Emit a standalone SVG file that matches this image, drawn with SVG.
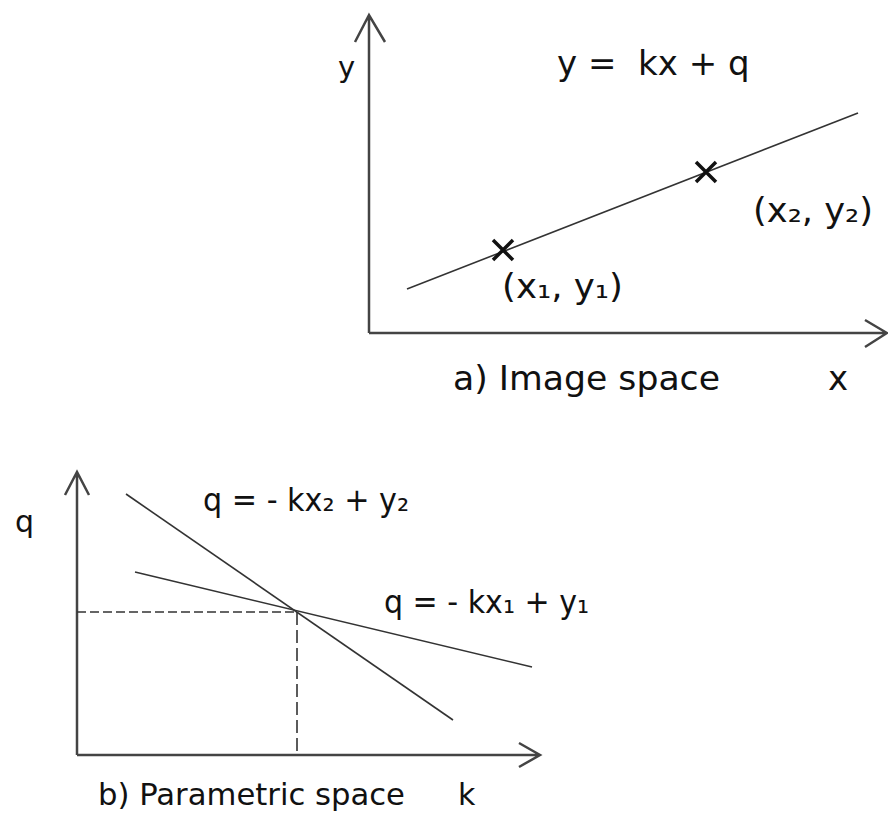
<svg xmlns="http://www.w3.org/2000/svg" width="888" height="814" viewBox="0 0 888 814">
<style>
.ax{stroke:#444;stroke-width:2.5;fill:none}
.ln{stroke:#333;stroke-width:1.6;fill:none}
.dash{stroke:#333;stroke-width:1.6;fill:none;stroke-dasharray:9 4}
.mk{stroke:#111;stroke-width:3.5;fill:none}
text{font-family:"DejaVu Sans","Liberation Sans",sans-serif;fill:#111}
</style>
<rect width="888" height="814" fill="#fff"/>
<g id="image-space">
  <g id="connectors-a">
    <path class="ax" d="M369,333 V15 M355,42 L369,15 L385,42"/>
    <path class="ax" d="M369,333 H887 M865,320 L887,333 L865,347"/>
    <path class="ln" d="M407,289 L858,113"/>
  </g>
  <g id="point1"><path class="mk" d="M493,240 L513,260 M513,240 L493,260"/></g>
  <g id="point2"><path class="mk" d="M696,162 L716,182 M716,162 L696,182"/></g>
  <text x="338" y="77" font-size="29">y</text>
  <text x="557" y="75" font-size="34" xml:space="preserve">y =  kx + q</text>
  <text x="753" y="222" font-size="33" textLength="120" lengthAdjust="spacingAndGlyphs">(x₂, y₂)</text>
  <text x="502" y="298" font-size="33" textLength="121" lengthAdjust="spacingAndGlyphs">(x₁, y₁)</text>
  <text x="453" y="390" font-size="34" textLength="267" lengthAdjust="spacingAndGlyphs">a) Image space</text>
  <text x="828" y="390" font-size="34">x</text>
</g>
<g id="parametric-space">
  <g id="connectors-b">
    <path class="ax" d="M77,755 V472 M65,495 L77,472 L89,495"/>
    <path class="ax" d="M77,755 H540 M519,743 L540,755 L519,767"/>
    <path class="ln" d="M126,494 L453,720"/>
    <path class="ln" d="M135,572 L532,667"/>
    <path class="dash" d="M77,612 H297"/>
    <path class="dash" d="M297,612 V755" style="stroke-dasharray:13 5"/>
  </g>
  <text x="15" y="532" font-size="30">q</text>
  <text x="203" y="511" font-size="32" textLength="206" lengthAdjust="spacingAndGlyphs">q = - kx₂ + y₂</text>
  <text x="384" y="613" font-size="32" textLength="205" lengthAdjust="spacingAndGlyphs">q = - kx₁ + y₁</text>
  <text x="98" y="805" font-size="31" textLength="307" lengthAdjust="spacingAndGlyphs">b) Parametric space</text>
  <text x="458" y="805" font-size="30">k</text>
</g>
</svg>
